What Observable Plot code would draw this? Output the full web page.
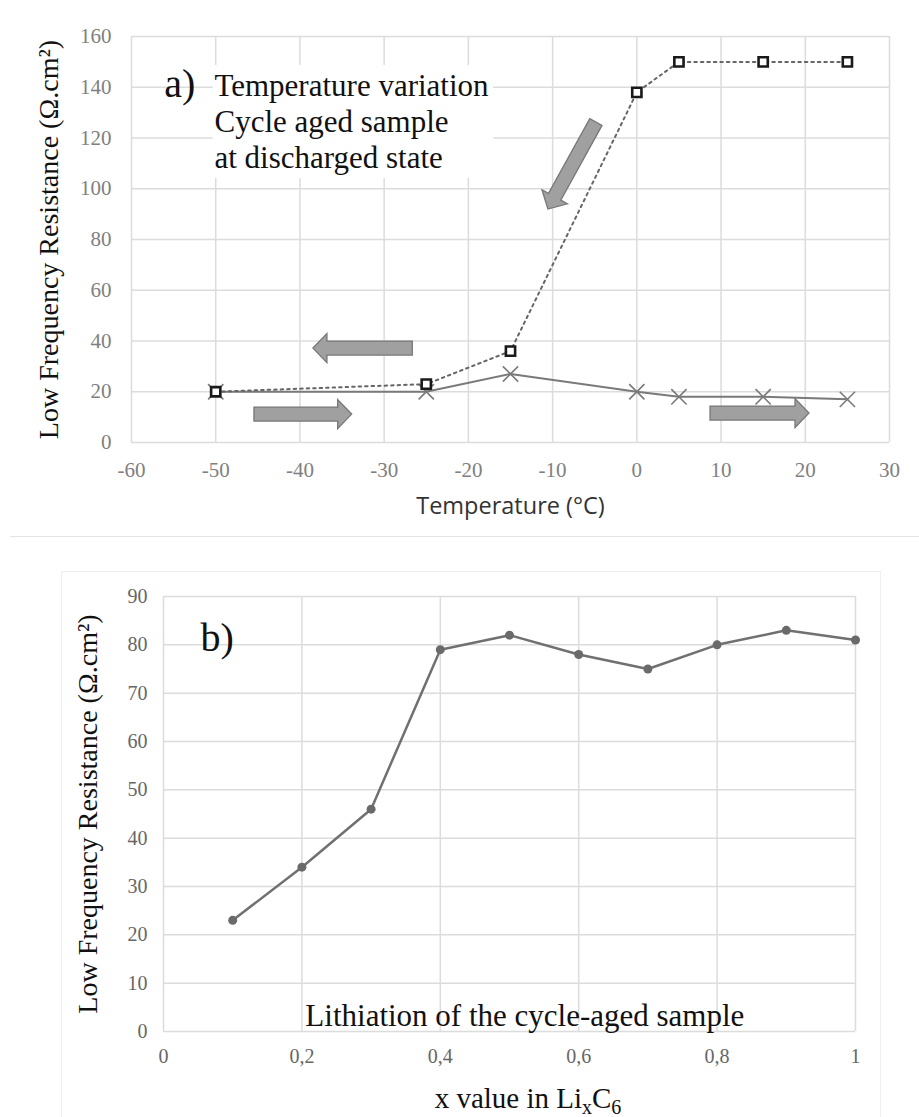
<!DOCTYPE html>
<html><head><meta charset="utf-8">
<script src="https://cdn.jsdelivr.net/npm/d3@7"></script>
<script src="https://cdn.jsdelivr.net/npm/@observablehq/plot@0.6"></script>
<style>
body{margin:0;background:#fff;}
#wrap{position:relative;width:919px;height:1117px;overflow:hidden;background:#fff;}
#top{position:absolute;left:0;top:0;}
#bot{position:absolute;left:0;top:560px;}
#divider{position:absolute;left:10px;top:536px;width:909px;height:0;border-top:1px solid #e4e4e4;}
#frameB{position:absolute;left:61px;top:571px;width:818px;height:600px;border:1px solid #efefef;}
</style></head><body>
<div id="wrap"><div id="divider"></div><div id="frameB"></div><div id="top"></div><div id="bot"></div></div>
<script>
// ---- Panel a) data ----
const tempC = [-50, -25, -15, 0, 5, 15, 25];
const coolingR = [20, 23, 36, 138, 150, 150, 150];   // squares, dotted
const heatingR = [20, 20, 27, 20, 18, 18, 17];       // crosses, solid
const xTicksA = [-60, -50, -40, -30, -20, -10, 0, 10, 20, 30];
const yTicksA = [0, 20, 40, 60, 80, 100, 120, 140, 160];
const arrowX1 = [-4.8, -26.6, -45.4, 8.75];
const arrowY1 = [126.1, 37.0, 11.0, 11.4];
const arrowX2 = [-10.5, -38.4, -33.8, 20.5];
const arrowY2 = [91.8, 37.0, 11.0, 11.4];
const noteA = ["Temperature variation", "Cycle aged sample", "at discharged state"];
const labelA = "a)";
const yTitle = "Low Frequency Resistance (Ω.cm²)";
const xTitleA = "Temperature (°C)";

// ---- Panel b) data ----
const lithX = [0.1, 0.2, 0.3, 0.4, 0.5, 0.6, 0.7, 0.8, 0.9, 1.0];
const lithR = [23, 34, 46, 79, 82, 78, 75, 80, 83, 81];
const xTicksB = [0, 0.2, 0.4, 0.6, 0.8, 1];
const xTickLabelsB = ["0", "0,2", "0,4", "0,6", "0,8", "1"];
const yTicksB = [0, 10, 20, 30, 40, 50, 60, 70, 80, 90];
const noteB = "Lithiation of the cycle-aged sample";
const labelB = "b)";

const serif = "'Liberation Serif','Times New Roman',serif";
const grid = "#dcdcdc";

function blockArrows(x1s, y1s, x2s, y2s) {
  return (index, scales) => {
    const g = d3.create("svg:g");
    for (let i = 0; i < x1s.length; i++) {
      const ax = scales.x(x1s[i]), ay = scales.y(y1s[i]);
      const bx = scales.x(x2s[i]), by = scales.y(y2s[i]);
      const dx = bx - ax, dy = by - ay, L = Math.hypot(dx, dy);
      const ux = dx / L, uy = dy / L, nx = -uy, ny = ux;
      const sw = 7, hw = 14.5, hl = 14;
      const pts = [[0,-sw],[L-hl,-sw],[L-hl,-hw],[L,0],[L-hl,hw],[L-hl,sw],[0,sw]]
        .map(([s,t]) => [ax + ux*s + nx*t, ay + uy*s + ny*t]);
      g.append("path")
        .attr("d", "M" + pts.map(p => p[0].toFixed(2) + "," + p[1].toFixed(2)).join("L") + "Z")
        .attr("fill", "#a0a0a0").attr("stroke", "#777").attr("stroke-width", 1.3);
    }
    return g.node();
  };
}

const dataA = tempC.map((t, i) => ({t, cool: coolingR[i], heat: heatingR[i]}));
const noteAData = noteA.map((s, i) => ({s, i}));
const noteAY = [136.7, 122.2, 108.0];

const plotA = Plot.plot({
  width: 919, height: 530,
  marginLeft: 131, marginRight: 30, marginTop: 36, marginBottom: 88,
  x: {domain: [-60, 30]},
  y: {domain: [0, 160]},
  style: {fontFamily: serif, background: "transparent", overflow: "visible"},
  marks: [
    Plot.gridX(xTicksA, {stroke: grid, strokeOpacity: 1, strokeWidth: 1.5}),
    Plot.gridY(yTicksA, {stroke: grid, strokeOpacity: 1, strokeWidth: 1.5}),
    Plot.axisX(xTicksA, {tickSize: 0, tickPadding: 20, fontSize: 21, fill: "#808080", label: null, tickFormat: d => String(d)}),
    Plot.axisY(yTicksA, {tickSize: 0, tickPadding: 20, fontSize: 21, fill: "#808080", label: null, tickFormat: d => String(d)}),
    Plot.rect([0], {x1: -50.3, x2: -17, y1: 104, y2: 148.6, fill: "white"}),
    Plot.text(noteAData, {x: -50.15, y: d => noteAY[d.i], text: "s", textAnchor: "start", lineAnchor: "bottom", fontSize: 31, fill: "#111"}),
    Plot.text([labelA], {x: -56.1, y: 136.0, textAnchor: "start", lineAnchor: "bottom", fontSize: 40, fill: "#111"}),
    Plot.line(dataA, {x: "t", y: "heat", stroke: "#7a7a7a", strokeWidth: 2}),
    Plot.dot(dataA, {x: "t", y: "heat", symbol: "times", r: 7, stroke: "#7a7a7a", strokeWidth: 1.6}),
    Plot.line(dataA, {x: "t", y: "cool", stroke: "#666", strokeWidth: 2, strokeDasharray: "2.5,4"}),
    Plot.dot(dataA, {x: "t", y: "cool", symbol: "square", r: 5.2, fill: "white", stroke: "#1a1a1a", strokeWidth: 2.6}),
    blockArrows(arrowX1, arrowY1, arrowX2, arrowY2),
    Plot.text([yTitle], {frameAnchor: "left", textAnchor: "middle", rotate: -90, dx: -82, fontSize: 28, fill: "#111"}),
    Plot.text([xTitleA], {frameAnchor: "bottom", textAnchor: "middle", dy: 71, lineAnchor: "bottom", fontSize: 23.5, fill: "#333", fontFamily: "'Open Sans',sans-serif"})
  ]
});
document.getElementById("top").appendChild(plotA);

const dataB = lithX.map((x, i) => ({x, r: lithR[i]}));

function xTitleB(index, scales, values, dims) {
  const cx = (dims.marginLeft + dims.width - dims.marginRight) / 2 + 19;
  const t = d3.create("svg:text")
    .attr("x", cx).attr("y", dims.height - 9)
    .attr("text-anchor", "middle")
    .attr("font-family", serif).attr("font-size", 29).attr("fill", "#111");
  t.append("tspan").text("x value in Li");
  t.append("tspan").attr("font-size", 20).attr("dy", 6).text("x");
  t.append("tspan").attr("dy", -6).text("C");
  t.append("tspan").attr("font-size", 20).attr("dy", 6).text("6");
  return t.node();
}

const plotB = Plot.plot({
  width: 919, height: 557,
  marginLeft: 163, marginRight: 64, marginTop: 36, marginBottom: 86,
  x: {domain: [0, 1]},
  y: {domain: [0, 90]},
  style: {fontFamily: serif, background: "transparent", overflow: "visible"},
  marks: [
    Plot.gridX(xTicksB, {stroke: grid, strokeOpacity: 1, strokeWidth: 1.5}),
    Plot.gridY(yTicksB, {stroke: grid, strokeOpacity: 1, strokeWidth: 1.5}),
    Plot.axisX(xTicksB, {tickSize: 0, tickPadding: 17, fontSize: 20, fill: "#666", label: null, tickFormat: (d, i) => xTickLabelsB[i]}),
    Plot.axisY(yTicksB, {tickSize: 0, tickPadding: 16, fontSize: 20, fill: "#666", label: null, tickFormat: d => String(d)}),
    Plot.rect([0], {x1: 0.205, x2: 0.86, y1: 0.95, y2: 1.74, fill: "white"}),
    Plot.text([noteB], {x: 0.205, y: 1.16, textAnchor: "start", lineAnchor: "bottom", fontSize: 31, fill: "#111"}),
    Plot.text([labelB], {x: 0.0535, y: 78.8, textAnchor: "start", lineAnchor: "bottom", fontSize: 40, fill: "#111"}),
    Plot.line(dataB, {x: "x", y: "r", stroke: "#707070", strokeWidth: 2.5}),
    Plot.dot(dataB, {x: "x", y: "r", r: 4.5, fill: "#6a6a6a"}),
    Plot.text([yTitle], {frameAnchor: "left", textAnchor: "middle", rotate: -90, dx: -75, fontSize: 28, fill: "#111"}),
    xTitleB
  ]
});
document.getElementById("bot").appendChild(plotB);
</script>
</body></html>
